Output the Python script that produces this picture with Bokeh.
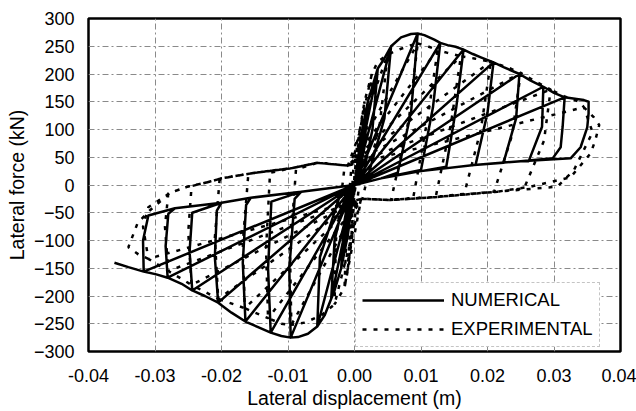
from bokeh.plotting import figure
from bokeh.models import FixedTicker, NumeralTickFormatter, Legend, LegendItem, Range1d
from bokeh.embed import file_html
from bokeh.resources import INLINE

# ---------------- axis ticks ----------------
x_ticks = [-0.04, -0.03, -0.02, -0.01, 0.0, 0.01, 0.02, 0.03, 0.04]
y_ticks = [-300, -250, -200, -150, -100, -50, 0, 50, 100, 150, 200, 250, 300]

# ---------------- NUMERICAL (solid) ----------------
num_env_pos_x = [0.0005, 0.001, 0.002, 0.003, 0.0035, 0.0045, 0.0055, 0.007, 0.0085, 0.0095, 0.0105, 0.012,
                 0.0129, 0.014, 0.0152, 0.0164, 0.0178, 0.019, 0.0209, 0.0225, 0.0248, 0.0265, 0.0284, 0.030,
                 0.0316, 0.0334, 0.0345, 0.0352]
num_env_pos_y = [45, 90, 150, 190, 210, 228, 250, 266, 272, 273, 270, 262,
                 256, 252, 249, 244, 236, 230, 221, 212, 200, 188, 177, 166,
                 158, 155, 153, 150]
num_pos_amp = [0.001, 0.002, 0.0035, 0.0055, 0.0095, 0.0129, 0.0164, 0.0209, 0.0248, 0.0284, 0.0316, 0.0352]
num_pos_force = [90, 150, 210, 250, 273, 256, 244, 221, 200, 177, 158, 150]
num_pos_unload = [
    [(0.0008, 40), (0.0003, 5)],
    [(0.0015, 70), (0.0006, 8)],
    [(0.0027, 100), (0.0012, 12)],
    [(0.0045, 120), (0.002, 15)],
    [(0.0085, 130), (0.0065, 22)],
    [(0.0118, 140), (0.0100, 27)],
    [(0.0153, 140), (0.0138, 33)],
    [(0.0200, 130), (0.0182, 36)],
    [(0.0243, 120), (0.0224, 40)],
    [(0.0282, 105), (0.0262, 43)],
    [(0.0313, 105), (0.0310, 68), (0.0298, 48)],
    [(0.0352, 129), (0.0350, 104), (0.0340, 68), (0.0325, 48)],
]
num_band_pos = [(0.025, 43), (0.018, 36), (0.010, 25), (0.004, 12), (0.0, 0)]

num_env_neg_x = [-0.0005, -0.001, -0.002, -0.003, -0.0035, -0.0045, -0.0056, -0.007, -0.0085, -0.0096, -0.011,
                 -0.0126, -0.0145, -0.0164, -0.0185, -0.0205, -0.0225, -0.0244, -0.026, -0.0281, -0.0298,
                 -0.0317, -0.034, -0.0361]
num_env_neg_y = [-45, -90, -150, -190, -205, -235, -255, -268, -274, -275, -272,
                 -266, -256, -246, -230, -212, -200, -190, -178, -167, -161,
                 -156, -148, -140]
num_neg_amp = [-0.001, -0.002, -0.0035, -0.0056, -0.0096, -0.0126, -0.0164, -0.0205, -0.0244, -0.0281, -0.0317, -0.0361]
num_neg_force = [-90, -150, -205, -255, -275, -266, -246, -212, -190, -167, -156, -140]
num_neg_unload = [
    [(-0.0008, -40), (-0.0003, -5)],
    [(-0.0016, -70), (-0.0006, -8)],
    [(-0.003, -100), (-0.0012, -10)],
    [(-0.0052, -130), (-0.002, -12)],
    [(-0.0098, -150), (-0.009, -25)],
    [(-0.013, -150), (-0.0125, -30)],
    [(-0.0168, -140), (-0.0163, -36)],
    [(-0.021, -130), (-0.0207, -46)],
    [(-0.0248, -120), (-0.0244, -50)],
    [(-0.0284, -110), (-0.028, -52)],
    [(-0.0318, -100), (-0.031, -55)],
    [],
]
num_band_neg = [(-0.027, -42), (-0.02, -32), (-0.0156, -23), (-0.008, -12), (0.0, 0)]

# ---------------- EXPERIMENTAL (dotted) ----------------
exp_env_pos_x = [0.0003, 0.0008, 0.0015, 0.0026, 0.0035, 0.005, 0.0069, 0.0085, 0.0095, 0.011, 0.0125, 0.014,
                 0.016, 0.018, 0.0205, 0.023, 0.025, 0.027, 0.0295, 0.0315, 0.0338, 0.0345, 0.036, 0.0368]
exp_env_pos_y = [30, 93, 150, 200, 222, 235, 245, 252, 255, 250, 243, 238,
                 232, 228, 222, 212, 202, 188, 172, 160, 150, 140, 122, 108]
exp_pos_amp = [0.0008, 0.0015, 0.0026, 0.005, 0.0095, 0.0125, 0.016, 0.0205, 0.025, 0.0295, 0.0345, 0.0368]
exp_pos_force = [93, 150, 200, 235, 255, 243, 232, 222, 202, 172, 140, 108]
exp_pos_unload = [
    [(0.0005, 40), (0.0, -10)],
    [(0.001, 70), (0.0, -15)],
    [(0.0018, 100), (0.0005, -20)],
    [(0.0038, 110), (0.0012, -25)],
    [(0.0082, 120), (0.0055, -27)],
    [(0.011, 120), (0.0088, -25)],
    [(0.0145, 110), (0.0122, -22)],
    [(0.019, 100), (0.0165, -16)],
    [(0.0237, 90), (0.021, -12)],
    [(0.0285, 80), (0.0255, -6)],
    [(0.0358, 95), (0.033, 27), (0.0305, -3)],
    [(0.0362, 80), (0.0355, 57), (0.0325, 14), (0.0265, -3)],
]
exp_band_pos = [(0.0215, -12), (0.012, -22), (0.0054, -27), (0.001, -25)]

exp_env_neg_x = [-0.0003, -0.0005, -0.001, -0.0015, -0.003, -0.005, -0.0075, -0.0095, -0.011, -0.013, -0.0165,
                 -0.0205, -0.0245, -0.028, -0.031, -0.0325, -0.034]
exp_env_neg_y = [-40, -100, -150, -185, -215, -235, -248, -252, -250, -240, -222,
                 -205, -180, -155, -133, -125, -112]
exp_neg_amp = [-0.0005, -0.001, -0.0015, -0.003, -0.0095, -0.013, -0.0165, -0.0205, -0.0245, -0.028, -0.031, -0.034]
exp_neg_force = [-100, -150, -185, -215, -252, -240, -222, -205, -180, -155, -133, -112]
exp_neg_unload = [
    [(-0.0002, -40), (0.0, 20)],
    [(-0.0006, -60), (-0.0002, 25)],
    [(-0.0012, -80), (-0.0005, 28)],
    [(-0.0028, -100), (-0.0015, 32)],
    [(-0.0097, -120), (-0.0088, 28)],
    [(-0.0133, -115), (-0.0127, 22)],
    [(-0.0168, -105), (-0.016, 15)],
    [(-0.021, -95), (-0.0203, 8)],
    [(-0.025, -85), (-0.0245, -2)],
    [(-0.0285, -75), (-0.028, -15)],
    [(-0.0318, -75), (-0.031, -40)],
    [(-0.0326, -68), (-0.0307, -45)],
]
exp_band_neg = [(-0.0277, -14), (-0.0251, -3), (-0.0221, 5), (-0.02, 12), (-0.015, 22), (-0.0096, 30),
                (-0.0056, 40), (-0.001, 35)]


def build_path(env_px, env_py, pamp, pforce, punl, pband,
               env_nx, env_ny, namp, nforce, nunl, nband):
    pts = [(0.0, 0.0)]
    for k in range(len(pamp)):
        # positive half-cycle
        lo = pamp[k - 1] if k > 0 else 0.0
        if k > 0:
            pts.append((pamp[k - 1], pforce[k - 1]))
        pts += [(x, y) for x, y in zip(env_px, env_py) if lo < x < pamp[k]]
        pts.append((pamp[k], pforce[k]))
        pts += punl[k]
        xe = punl[k][-1][0]
        pts += [(x, y) for x, y in pband if x < xe]
        # negative half-cycle
        lo = namp[k - 1] if k > 0 else 0.0
        if k > 0:
            pts.append((namp[k - 1], nforce[k - 1]))
        pts += [(x, y) for x, y in zip(env_nx, env_ny) if namp[k] < x < lo]
        pts.append((namp[k], nforce[k]))
        if nunl[k]:
            pts += nunl[k]
            xe = nunl[k][-1][0]
            pts += [(x, y) for x, y in nband if x > xe]
    return [q[0] for q in pts], [q[1] for q in pts]


num_x, num_y = build_path(num_env_pos_x, num_env_pos_y, num_pos_amp, num_pos_force, num_pos_unload, num_band_pos,
                          num_env_neg_x, num_env_neg_y, num_neg_amp, num_neg_force, num_neg_unload, num_band_neg)
exp_x, exp_y = build_path(exp_env_pos_x, exp_env_pos_y, exp_pos_amp, exp_pos_force, exp_pos_unload, exp_band_pos,
                          exp_env_neg_x, exp_env_neg_y, exp_neg_amp, exp_neg_force, exp_neg_unload, exp_band_neg)

FONT = "Liberation Sans"

p = figure(width=636, height=411, output_backend="svg", toolbar_location=None,
           x_range=Range1d(-0.04, 0.04), y_range=Range1d(-300, 300),
           min_border_left=88, min_border_right=16, min_border_top=18, min_border_bottom=59)
p.background_fill_color = "white"
p.border_fill_color = "white"
p.outline_line_color = "black"
p.outline_line_width = 2.5

p.xaxis.ticker = FixedTicker(ticks=x_ticks)
p.xaxis.formatter = NumeralTickFormatter(format="0.00")
p.yaxis.ticker = FixedTicker(ticks=y_ticks)

for ax in (p.xaxis[0], p.yaxis[0]):
    ax.axis_line_color = None
    ax.major_tick_line_color = None
    ax.minor_tick_line_color = None
    ax.major_tick_out = 0
    ax.major_tick_in = 0
    ax.minor_tick_out = 0
    ax.major_label_text_font = FONT
    ax.major_label_text_font_size = "18px"
    ax.major_label_text_color = "black"
    ax.axis_label_text_font = FONT
    ax.axis_label_text_font_size = "19.5px"
    ax.axis_label_text_font_style = "normal"
    ax.axis_label_text_color = "black"

p.xaxis.axis_label = "Lateral displacement (m)"
p.yaxis.axis_label = "Lateral force (kN)"
p.xaxis.major_label_standoff = 17
p.yaxis.major_label_standoff = 14
p.xaxis.axis_label_standoff = 2
p.yaxis.axis_label_standoff = 3

p.grid.grid_line_color = "#8a8a8a"
p.grid.grid_line_width = 1
p.grid.grid_line_dash = "6 3 2 3"

r_exp = p.line(exp_x, exp_y, line_color="black", line_width=2.5, line_dash="4 7")
r_num = p.line(num_x, num_y, line_color="black", line_width=2.5, line_join="round")

legend = Legend(items=[LegendItem(label="NUMERICAL", renderers=[r_num]),
                       LegendItem(label="EXPERIMENTAL", renderers=[r_exp])],
                location=(267, 4))
legend.label_text_font = FONT
legend.label_text_font_size = "18.5px"
legend.label_text_color = "black"
legend.glyph_width = 82
legend.glyph_height = 20
legend.label_height = 20
legend.label_standoff = 7
legend.padding = 6
legend.spacing = 7
legend.margin = 0
legend.border_line_color = "#8a8a8a"
legend.border_line_width = 1
legend.border_line_dash = "4 2"
legend.background_fill_color = "white"
legend.background_fill_alpha = 1.0
p.add_layout(legend)

open("out.html", "w").write(file_html(p, INLINE))
